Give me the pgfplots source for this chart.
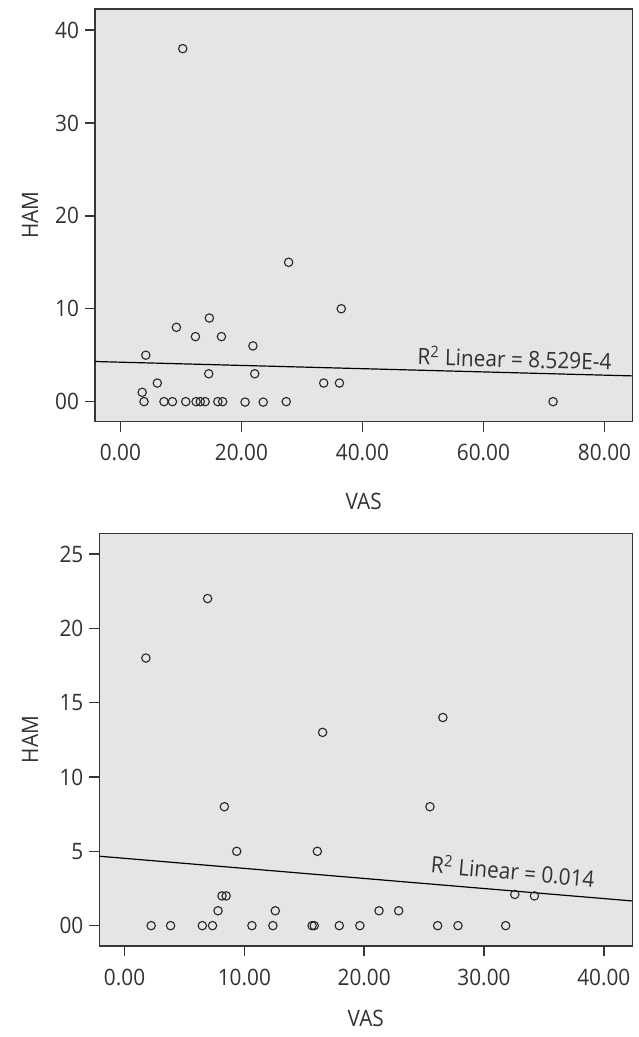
\documentclass[border=0pt]{standalone}
\usepackage{pgfplots}
\pgfplotsset{compat=1.18}
\usepackage{fontspec}
\setmainfont{Open Sans}[FakeStretch=0.92]
\definecolor{bg}{RGB}{228,229,231}
\definecolor{ax}{RGB}{55,55,55}
\definecolor{txt}{RGB}{50,50,50}
\newcommand{\lf}{\fontsize{11.3}{13.5}\selectfont}
\pgfplotsset{
  spssax/.style={
    scale only axis,
    axis background/.style={fill=bg},
    axis line style={ax, line width=0.75pt},
    tick style={ax, line width=0.75pt},
    tick align=outside,
    major tick length=5pt,
    xtick pos=bottom, ytick pos=left,
    tick label style={font=\lf, text=txt},
    xticklabel style={anchor=center, yshift=-10.5pt},
    yticklabel style={anchor=east, inner sep=0pt, xshift=-2.8pt},
    label style={font=\lf, text=txt},
    clip=true,
  },
  pts/.style={only marks, mark=o, mark size=2.1pt, mark options={line width=0.55pt, draw=black!85}},
  fit/.style={no marks, black, line width=0.6pt},
}
\begin{document}
\begin{tikzpicture}[x=1pt,y=1pt]
\path[use as bounding box] (0,0) rectangle (319,-518.5);

% ---------- top plot ----------
\begin{axis}[spssax,
  at={(47.5pt,-4.5pt)}, anchor=north west,
  width=268.65pt, height=206.35pt,
  xmin=-4.2, xmax=84.6, ymin=-2.16, ymax=42.27,
  xtick={0,20,40,60,80}, xticklabels={0.00,20.00,40.00,60.00,80.00},
  ytick={0,10,20,30,40}, yticklabels={00,10,20,30,40},
  xlabel={VAS}, ylabel={HAM},
  xlabel style={at={(axis description cs:0.5,-0.194)}, anchor=center},
  ylabel style={at={(axis description cs:-0.121,0.5)}, anchor=center},
]
\addplot[pts] coordinates {
 (10.3,38.0) (27.8,15.0) (36.5,10.0) (14.7,9.0) (9.25,8.0)
 (12.4,7.0) (16.7,7.0) (21.9,6.0) (4.2,5.0) (14.6,3.0) (22.2,3.0)
 (6.1,2.0) (33.6,2.0) (36.2,2.0) (3.6,1.0)
 (3.9,0) (7.2,0) (8.6,0) (10.8,0) (12.5,0) (13.2,0) (14.0,0)
 (16.1,0) (16.9,0) (20.6,-0.05) (23.6,-0.05) (27.4,0) (71.5,0)
};
\addplot[fit] coordinates {(-4.2,4.32) (84.6,2.77)};
\node[anchor=base west, rotate=-1.5, font=\lf, text=txt, inner sep=0pt]
  at (axis cs:49.0,3.95) {R\textsuperscript{2} Linear = 8.529E-4};
\end{axis}

% ---------- bottom plot ----------
\begin{axis}[spssax,
  at={(49.65pt,-266.65pt)}, anchor=north west,
  width=266.5pt, height=206.35pt,
  xmin=-2.11, xmax=42.38, ymin=-1.37, ymax=26.39,
  xtick={0,10,20,30,40}, xticklabels={0.00,10.00,20.00,30.00,40.00},
  ytick={0,5,10,15,20,25}, yticklabels={00,5,10,15,20,25},
  xlabel={VAS}, ylabel={HAM},
  xlabel style={at={(axis description cs:0.5,-0.175)}, anchor=center},
  ylabel style={at={(axis description cs:-0.130,0.5)}, anchor=center},
]
\addplot[pts] coordinates {
 (6.93,22) (1.78,18) (16.53,13) (26.57,14)
 (8.33,8) (25.49,8) (9.36,5) (16.09,5)
 (8.13,2) (8.48,2) (32.57,2.1) (34.21,2.0)
 (7.8,1) (12.58,1) (21.24,1) (22.88,1)
 (2.22,0) (3.84,0) (6.49,0) (7.34,0) (10.63,0) (12.38,0)
 (15.65,0) (15.83,0) (17.92,0) (19.64,0) (26.13,0) (27.83,0) (31.81,0)
};
\addplot[fit] coordinates {(-2.11,4.67) (42.38,1.66)};
\node[anchor=base west, rotate=-5, font=\lf, text=txt, inner sep=0pt]
  at (axis cs:25.5,3.55) {R\textsuperscript{2} Linear = 0.014};
\end{axis}
\end{tikzpicture}
\end{document}
